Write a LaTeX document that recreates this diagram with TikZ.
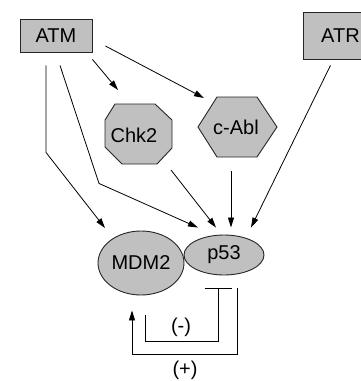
\documentclass[tikz,border=0pt]{standalone}
\usepackage{fontspec}
\setmainfont{Liberation Sans}
\usepackage{tikz}
\usetikzlibrary{arrows.meta}
\usetikzlibrary{shapes.geometric}
\usetikzlibrary{calc}
\definecolor{protgray}{HTML}{C0C0C0}
\tikzset{prot/.style={fill=protgray,draw=black!85,line width=0.9pt},
         arr/.style={-{Triangle[length=10pt,width=6pt]},line width=0.8pt},
         inhib/.style={{Bar[width=27pt]}-,line width=0.8pt},
         lbl/.style={font=\fontsize{20}{23}\selectfont}}

\begin{document}
\begin{tikzpicture}[x=1pt,y=-1pt,lbl]
\clip (0,0) rectangle (361,381);
% kinases
\node[prot,rectangle,minimum width=72pt,minimum height=33pt] (atm) at (56,35.5) {ATM};
\node[prot,rectangle,minimum width=74pt,minimum height=47pt,anchor=west] (atr) at (303,35.5) {ATR};
\draw[prot] (115,104) -- (155,104) -- (172,120) -- (172,148) -- (157,164) -- (122,164) -- (105,147) -- (105,120) -- cycle;
\node (chk2) at (134,135) {Chk2};
\draw[prot] (217,97) -- (257,97) -- (277,127) -- (257,157) -- (217,157) -- (198,127) -- cycle;
\node (cabl) at (236,127) {c-Abl};
% targets
\node[prot,ellipse,inner sep=0pt,minimum width=86pt,minimum height=64pt] (mdm2) at (141,263) {MDM2};
\node[prot,ellipse,inner sep=0pt,minimum width=80pt,minimum height=40pt] (p53) at (224,255) {p53};
% signalling
\draw[arr] ($(atm.south east)+(0,7)$) -- ($(chk2)+(-16,-45)$);
\draw[arr] ($(atm.east)+(13,10.5)$) -- ($(cabl)+(-32,-29)$);
\draw[arr] ($(atm.south)+(-10,13)$) -- ++(0,87) -- ($(mdm2)+(-36,-35)$);
\draw[arr] ($(atm.south)+(4,13)$) -- ++(39,118) -- ($(p53.north)+(-26,-7)$);
\draw[arr] ($(chk2)+(37,35)$) -- ($(p53.north)+(-8,-7)$);
\draw[arr] ($(cabl)+(-5,44)$) -- ($(p53.north)+(7,-7)$);
\draw[arr] ($(atr.south)+(-10,6)$) -- ($(p53.north)+(27,-7)$);
% feedback loops
\draw[inhib] ($(p53.south)+(-6,13)$) -- ++(0,53) -| ($(mdm2.south)+(4,20)$);
\draw[arr] ($(p53.south)+(13,13)$) -- ++(0,66) -| ($(mdm2.south)+(-9,15)$);
\node (neg) at (181,327) {(-)};
\node (pos) at (185,370) {(+)};
\end{tikzpicture}
\end{document}
